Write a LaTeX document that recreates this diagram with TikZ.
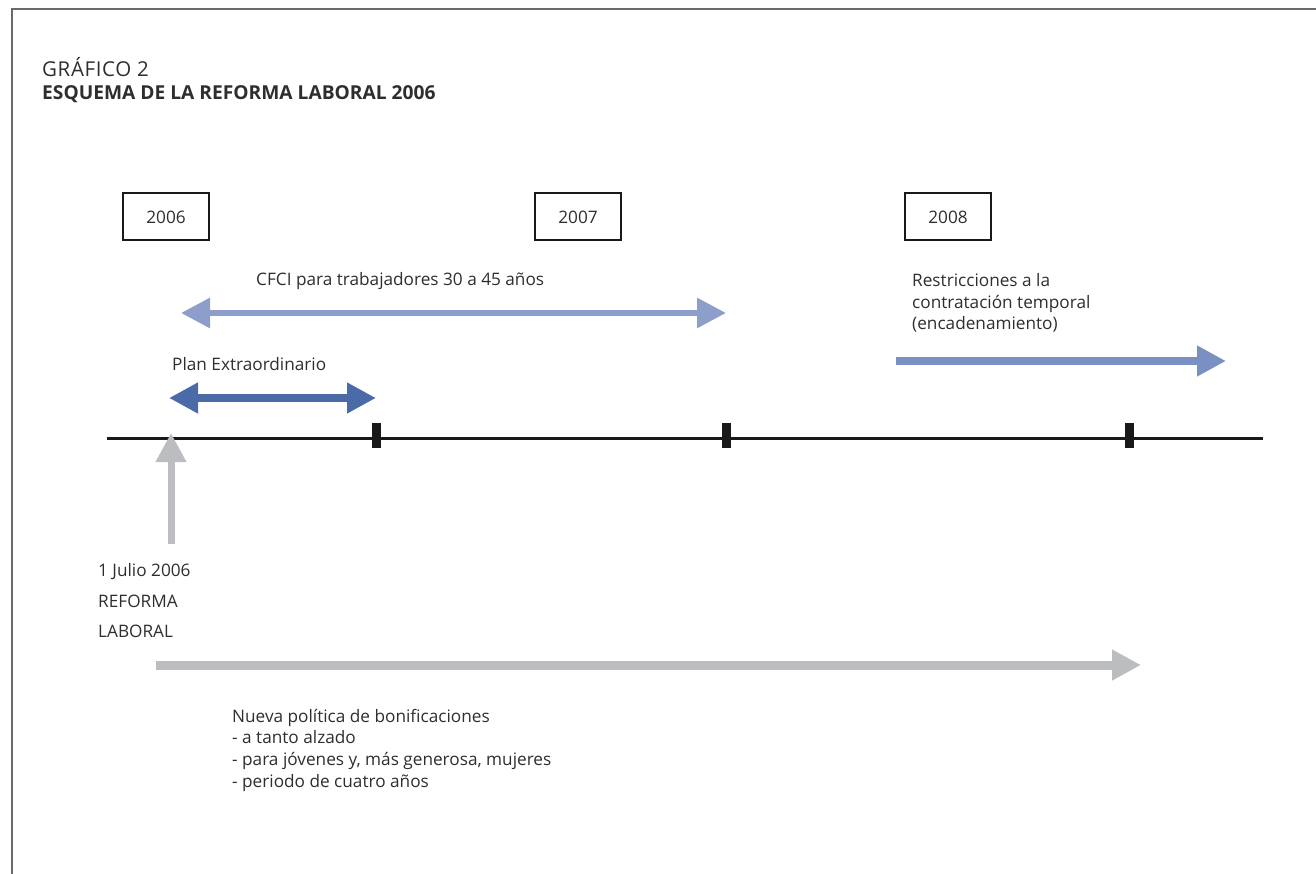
\documentclass[tikz,border=0pt]{standalone}
\usepackage{fontspec}
\setmainfont{Open Sans}
\usetikzlibrary{arrows.meta}
\definecolor{txt}{HTML}{2E2E2E}
\definecolor{cfci}{HTML}{8E9ECB}
\definecolor{plan}{HTML}{4A6AA8}
\definecolor{restr}{HTML}{7A8FC2}
\definecolor{gris}{HTML}{BCBDC1}
\definecolor{frame}{HTML}{6A6A6A}
\tikzset{
  lbl/.style={anchor=base west, inner sep=0pt, text=txt, font=\fontsize{17.2}{21.6}\selectfont, align=left},
  yearbox/.style={draw=black!90, line width=2pt, minimum width=86pt, minimum height=47pt, inner sep=0pt, text=txt, font=\fontsize{17.2}{20}\selectfont},
  bigarrow/.style={line width=#1, -{Triangle[length=29pt,width=29pt]}},
  dblarrow/.style={line width=#1, {Triangle[length=29pt,width=29pt]}-{Triangle[length=29pt,width=29pt]}},
  tick/.style={fill=black!90, draw=none, minimum width=9pt, minimum height=25pt, inner sep=0pt}
}
\begin{document}
\begin{tikzpicture}[x=1pt,y=-1pt]
\useasboundingbox (0,0) rectangle (1316,874);
\draw[frame, line width=1.6pt] (1316,9) -- (12,9) -- (12,874);
% title
\node[lbl, font=\fontsize{20.5}{22}\selectfont\addfontfeatures{LetterSpace=3}] (t1) at (42,76.5) {GRÁFICO 2};
\node[lbl, font=\fontsize{19.2}{22}\selectfont\bfseries] (t2) at (42,99.5) {ESQUEMA DE LA REFORMA LABORAL 2006};
% year boxes
\node[yearbox] (y2006) at (166,217) {2006};
\node[yearbox] (y2007) at (578,217) {2007};
\node[yearbox] (y2008) at (948,217) {2008};
% timeline
\coordinate (tlA) at (107,438);
\coordinate (tlB) at (1263,438);
\draw[black!90, line width=3pt] (tlA) -- (tlB);
\node[tick] (k1) at (376,435) {};
\node[tick] (k2) at (726,435) {};
\node[tick] (k3) at (1129,435) {};
% CFCI
\node[lbl] (cfcitxt) at (256,286) {CFCI para trabajadores 30 a 45 años};
\coordinate (cfA) at (181,313);
\coordinate (cfB) at (726,313);
\draw[cfci, dblarrow=6pt] (cfA) -- (cfB);
% Plan
\node[lbl] (plantxt) at (172,370) {Plan Extraordinario};
\coordinate (plA) at (169,398);
\coordinate (plB) at (376,398);
\draw[plan, dblarrow=8pt] (plA) -- (plB);
% Restricciones
\node[lbl] (restxt) at (912,330) {Restricciones a la\\contratación temporal\\(encadenamiento)};
\coordinate (reA) at (896,361);
\coordinate (reB) at (1226,361);
\draw[restr, bigarrow=8pt] (reA) -- (reB);
% up arrow
\coordinate (upA) at (171,544);
\coordinate (upB) at (171,433);
\draw[gris, bigarrow=7pt] (upA) -- (upB);
\node[lbl] (jul) at (98,576) {1 Julio 2006};
\node[lbl] (ref) at (98,607) {REFORMA};
\node[lbl] (lab) at (98,637) {LABORAL};
% bottom arrow
\coordinate (boA) at (156,665);
\coordinate (boB) at (1141,665);
\draw[gris, bigarrow=9pt] (boA) -- (boB);
\node[lbl] (bon) at (232,787) {Nueva política de bonificaciones\\- a tanto alzado\\- para jóvenes y, más generosa, mujeres\\- periodo de cuatro años};
\end{tikzpicture}
\end{document}
